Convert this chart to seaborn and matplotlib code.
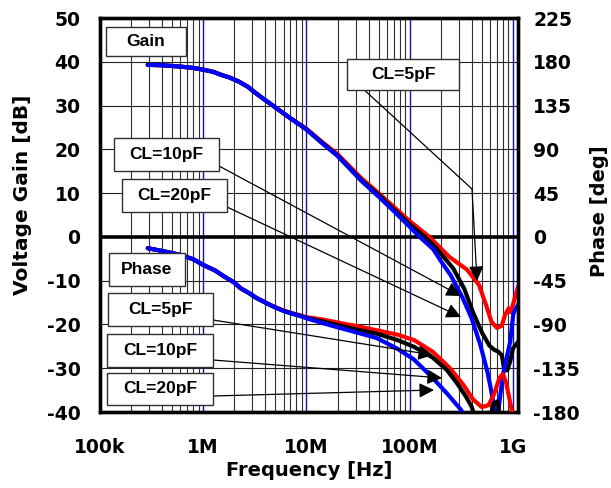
import numpy as np
import pandas as pd
import matplotlib
matplotlib.use('Agg')
import matplotlib.pyplot as plt
import matplotlib.ticker as mticker
from matplotlib.patches import Rectangle
import seaborn as sns

# ---- data ----
f_gain_blue = [2.9e5, 4e5, 6e5, 8e5, 1e6, 1.25e6, 1.5e6, 1.8e6, 2.2e6, 2.7e6, 3.2e6, 3.8e6, 4.6e6, 6.7e6,
               1e7, 1.45e7, 2e7, 3.4e7, 5e7, 7.3e7,
               1e8, 1.25e8, 1.69e8, 2.04e8, 2.49e8, 3.27e8, 3.98e8, 4.84e8, 5.66e8, 6.1e8, 6.6e8, 6.9e8,
               7.2e8, 8.0e8, 9.4e8, 1.01e9, 1.12e9]
gain_blue = [39.3, 39.2, 38.9, 38.6, 38.2, 37.7, 37.0, 36.4, 35.5, 34.3, 32.9, 31.6, 30.2, 27.4,
             24.5, 21.2, 18.5, 12.8, 9.2, 5.5,
             2.3, 0.0, -2.8, -5.8, -8.7, -14.0, -18.6, -24.7, -30.8, -34.6, -39.1, -43.0,
             -40.0, -31.5, -24.0, -17.5, -15.5]

f_gain_black = [2.9e5, 4e5, 6e5, 8e5, 1e6, 1.25e6, 1.5e6, 1.8e6, 2.2e6, 2.7e6, 3.2e6, 3.8e6, 4.6e6, 6.7e6,
                1e7, 1.45e7, 2e7, 3.4e7, 5e7, 7.3e7,
                1e8, 1.4e8, 1.8e8, 2.64e8, 3.37e8, 4.1e8, 5e8, 5.9e8, 6.6e8, 7.2e8, 7.8e8, 8.2e8, 8.8e8,
                9.4e8, 1.0e9, 1.12e9]
gain_black = [39.3, 39.2, 38.9, 38.6, 38.2, 37.7, 37.0, 36.4, 35.5, 34.3, 32.9, 31.6, 30.2, 27.4,
              24.6, 21.3, 18.6, 13.0, 9.6, 5.9,
              2.9, 0.0, -2.5, -7.2, -11.8, -17.2, -21.8, -24.8, -25.8, -26.2, -27.0, -30.0, -30.5,
              -28.5, -25.5, -24.0]

f_gain_red = [2.9e5, 4e5, 6e5, 8e5, 1e6, 1.25e6, 1.5e6, 1.8e6, 2.2e6, 2.7e6, 3.2e6, 3.8e6, 4.6e6, 6.7e6,
              1e7, 1.45e7, 2e7, 3.4e7, 5e7, 7.3e7,
              1e8, 1.55e8, 2.4e8, 3.6e8, 4.7e8, 5.5e8, 6.2e8, 7.0e8, 7.8e8, 8.4e8, 9.1e8, 9.5e8, 1.0e9, 1.12e9]
gain_red = [39.3, 39.2, 38.9, 38.6, 38.2, 37.7, 37.0, 36.4, 35.5, 34.3, 32.9, 31.6, 30.2, 27.4,
            24.7, 21.5, 18.9, 13.4, 10.0, 6.5,
            3.6, 0.0, -4.5, -7.5, -11.0, -15.6, -19.4, -20.8, -20.3, -17.8, -16.3, -17.2, -15.5, -11.4]

f_phase_blue = [2.9e5, 4e5, 6e5, 8e5, 1e6, 1.3e6, 1.6e6, 2e6, 2.3e6, 2.8e6, 3.3e6, 4e6, 4.8e6, 5.8e6, 7e6,
                8.5e6, 1e7, 1.45e7, 2e7, 3e7, 4.8e7, 7.6e7,
                1.1e8, 1.67e8, 2.3e8, 3.1e8, 3.5e8]
phase_blue = [-11.6, -14.5, -18.5, -23.0, -28.8, -34.5, -40.8, -47.0, -52.8, -58.0, -63.0, -67.5, -71.7,
              -75.5, -78.5, -81.0, -83.6, -88.8, -92.9, -98.0,
              -104.0, -115.0, -126.0, -145.0, -161.0, -177.0, -186.0]

f_phase_black = [2.9e5, 4e5, 6e5, 8e5, 1e6, 1.3e6, 1.6e6, 2e6, 2.3e6, 2.8e6, 3.3e6, 4e6, 4.8e6, 5.8e6, 7e6,
                 8.5e6, 1e7, 1.45e7, 2e7, 3e7, 4.8e7, 7.6e7,
                 1.1e8, 1.67e8, 2.3e8, 2.9e8, 3.5e8, 3.96e8, 4.3e8, 5e8, 6.0e8, 6.5e8, 7.1e8, 7.5e8, 8e8]
phase_black = [-11.6, -14.5, -18.5, -23.0, -28.8, -34.5, -40.8, -47.0, -52.8, -58.0, -63.0, -67.5, -71.7,
               -75.4, -78.3, -80.8, -83.2, -87.0, -90.5, -95.0,
               -99.5, -106.0, -113.0, -124.0, -137.0, -151.0, -164.0, -174.0, -185.0, -200.0, -186.0,
               -172.0, -169.0, -186.0, -200.0]

f_phase_red = [2.9e5, 4e5, 6e5, 8e5, 1e6, 1.3e6, 1.6e6, 2e6, 2.3e6, 2.8e6, 3.3e6, 4e6, 4.8e6, 5.8e6, 7e6,
               8.5e6, 1e7, 1.45e7, 2e7, 3e7, 4.8e7, 7.6e7,
               1.1e8, 1.67e8, 2.46e8, 3.36e8, 4.1e8, 5e8, 5.8e8, 6.6e8, 7.4e8, 8e8, 8.6e8, 9.4e8, 9.9e8, 1.05e9]
phase_red = [-11.6, -14.5, -18.5, -23.0, -28.8, -34.5, -40.8, -47.0, -52.8, -58.0, -63.0, -67.5, -71.5,
             -75.0, -78.0, -80.3, -82.5, -85.0, -88.0, -91.5,
             -96.0, -100.5, -106.0, -118.0, -135.0, -153.0, -167.0, -175.0, -173.0, -161.0, -145.0,
             -141.0, -150.0, -170.0, -182.0, -195.0]

x_ticks = [1e5, 1e6, 1e7, 1e8, 1e9]
x_ticklabels = ['100k', '1M', '10M', '100M', '1G']
gain_ticks = [50, 40, 30, 20, 10, 0, -10, -20, -30, -40]
phase_ticks = [225, 180, 135, 90, 45, 0, -45, -90, -135, -180]

# boxes: (text, x0, y0, x1, y1) in pixels of the reference
boxes = [('Gain', 106, 27, 186, 56),
         ('CL=10pF', 114, 138, 219, 171),
         ('CL=20pF', 122, 179, 227, 212),
         ('CL=5pF', 347, 59, 459, 90),
         ('Phase', 109, 253, 185, 286),
         ('CL=5pF', 108, 293, 213, 326),
         ('CL=10pF', 107, 334, 213, 367),
         ('CL=20pF', 107, 373, 213, 405)]
# leader lines (polyline in reference pixels, last point = arrow tip)
leaders = [[(360, 86), (472, 189), (477, 281)],
           [(219, 166), (461, 296)],
           [(227, 207), (461, 317)],
           [(213, 320), (433, 355)],
           [(213, 360), (442, 378)],
           [(213, 396), (434, 390)]]

W, H = 611, 488
AX_L, AX_R, AX_T, AX_B = 100, 518, 18, 412

sns.set_style('white')
plt.rcParams['font.family'] = ['DejaVu Sans']
plt.rcParams['font.weight'] = 'bold'
plt.rcParams['axes.unicode_minus'] = False
for k in ['text.color', 'axes.labelcolor', 'xtick.color', 'ytick.color', 'axes.edgecolor']:
    plt.rcParams[k] = 'black'

fig = plt.figure(figsize=(W / 100, H / 100), dpi=100)
ax = fig.add_axes([AX_L / W, 1 - AX_B / H, (AX_R - AX_L) / W, (AX_B - AX_T) / H])
ax2 = ax.twinx()


def to_axes(px, py):
    return (px - AX_L) / (AX_R - AX_L), (AX_B - py) / (AX_B - AX_T)


for fx, gy, col in [(f_gain_red, gain_red, 'red'), (f_gain_black, gain_black, 'black'),
                    (f_gain_blue, gain_blue, 'blue')]:
    sns.lineplot(x=fx, y=gy, ax=ax, color=col, lw=3, estimator=None, sort=False, zorder=5,
                 solid_joinstyle='round', solid_capstyle='round')
for fx, py, col in [(f_phase_red, phase_red, 'red'), (f_phase_black, phase_black, 'black'),
                    (f_phase_blue, phase_blue, 'blue')]:
    sns.lineplot(x=fx, y=py, ax=ax2, color=col, lw=3, estimator=None, sort=False, zorder=5,
                 solid_joinstyle='round', solid_capstyle='round')

for a in (ax, ax2):
    a.set_xscale('log')
    a.set_xlim(1e5, 1.12e9)
ax.set_ylim(-40, 50)
ax2.set_ylim(-180, 225)

ax.set_xticks(x_ticks)
ax.set_xticklabels(x_ticklabels)
ax.xaxis.set_minor_locator(mticker.LogLocator(base=10, subs=np.arange(2, 10)))
ax.xaxis.set_minor_formatter(mticker.NullFormatter())
ax.set_yticks(gain_ticks)
ax2.set_yticks(phase_ticks)

ax.grid(True, which='minor', axis='x', color='#303030', lw=0.8)
ax.grid(True, which='major', axis='x', color='#1010b0', lw=1.0)
ax.grid(True, which='major', axis='y', color='#202020', lw=0.8)
ax.axhline(0, color='black', lw=2.6, zorder=4)

ax.tick_params(axis='x', which='both', length=0, pad=19, labelsize=13.5)
ax.tick_params(axis='y', length=0, pad=14, labelsize=13.5)
ax2.tick_params(axis='y', length=0, pad=11, labelsize=13.5)
for a in (ax, ax2):
    for lab in a.get_xticklabels() + a.get_yticklabels():
        lab.set_fontweight('bold')
    for s in a.spines.values():
        s.set_linewidth(2.4)
        s.set_color('black')

ax.set_xlabel('Frequency [Hz]', fontsize=14, fontweight='bold')
ax.xaxis.set_label_coords(0.5, -0.125)
ax.set_ylabel('Voltage Gain [dB]', fontsize=14.5, fontweight='bold')
ax.yaxis.set_label_coords(-0.163, 0.55)
ax2.set_ylabel('Phase [deg]', fontsize=14, fontweight='bold')
ax2.yaxis.set_label_coords(1.172, 0.51)

for pts in leaders:
    xs = [to_axes(p[0], p[1])[0] for p in pts]
    ys = [to_axes(p[0], p[1])[1] for p in pts]
    ax2.plot(xs[:-1], ys[:-1], color='black', lw=0.9, transform=ax2.transAxes, zorder=6)
    ax2.annotate('', xy=(xs[-1], ys[-1]), xytext=(xs[-2], ys[-2]),
                 xycoords='axes fraction', textcoords='axes fraction',
                 arrowprops=dict(arrowstyle='-|>,head_length=0.9,head_width=0.45', color='black',
                                 lw=0.9, shrinkA=0, shrinkB=0), zorder=6)

for txt, x0, y0, x1, y1 in boxes:
    bx0, by0 = to_axes(x0, y1)
    bx1, by1 = to_axes(x1, y0)
    ax2.add_patch(Rectangle((bx0, by0), bx1 - bx0, by1 - by0, transform=ax2.transAxes,
                            facecolor='white', edgecolor='#303030', lw=1.0, zorder=7))
    ax2.text((bx0 + bx1) / 2, (by0 + by1) / 2, txt, transform=ax2.transAxes, ha='center', va='center',
             fontsize=12.5, fontweight='bold', family='Liberation Sans', zorder=8)

fig.savefig('out.png', dpi=100)
